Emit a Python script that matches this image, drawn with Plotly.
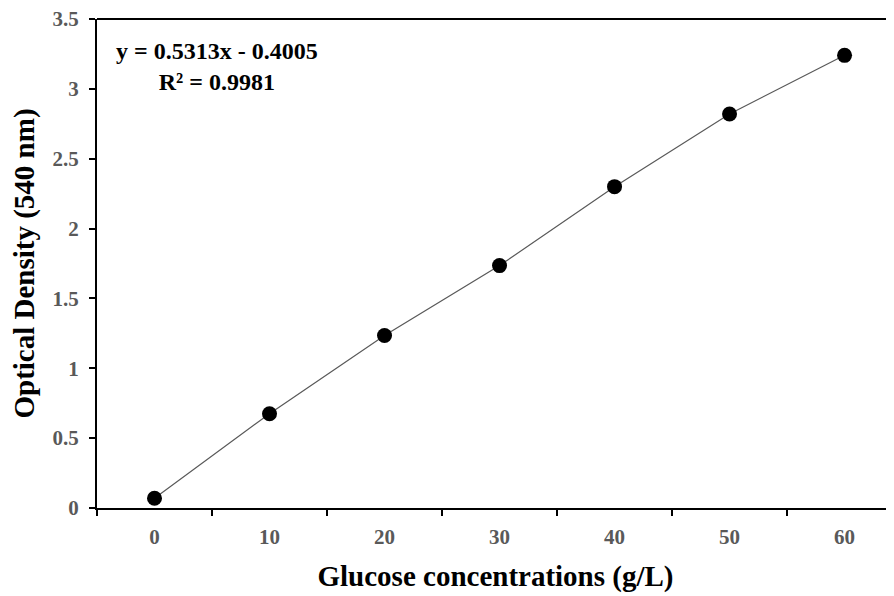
import plotly.graph_objects as go

categories = ["0", "10", "20", "30", "40", "50", "60"]
optical_density = [0.07, 0.675, 1.235, 1.735, 2.30, 2.82, 3.24]
y_ticks = [0, 0.5, 1, 1.5, 2, 2.5, 3, 3.5]
y_tick_labels = ["0", "0.5", "1", "1.5", "2", "2.5", "3", "3.5"]
equation_text = "y = 0.5313x - 0.4005<br>R² = 0.9981"

FONT = "Liberation Serif"

fig = go.Figure()
fig.add_trace(go.Scatter(
    x=categories, y=optical_density, mode="lines+markers",
    line=dict(color="#595959", width=1.2),
    marker=dict(color="black", size=15),
    showlegend=False,
))

# page body has an 8px default margin, so the figure is sized to 886x588
fig.update_layout(
    width=886, height=588,
    margin=dict(l=89, r=0, t=11, b=88),
    plot_bgcolor="white", paper_bgcolor="white",
    font=dict(family=FONT),
    xaxis=dict(
        type="category", range=[-0.5, 6.43],
        tickson="boundaries", ticks="outside", ticklen=6, tickwidth=2, tickcolor="black",
        showline=True, linecolor="black", linewidth=2, showgrid=False, zeroline=False,
        ticklabelstandoff=9,
        tickfont=dict(family=FONT, size=21, color="#595959", weight="bold"),
        title=dict(text="<b>Glucose concentrations (g/L)</b>",
                   font=dict(family=FONT, size=29, color="black"), standoff=17),
    ),
    yaxis=dict(
        range=[0, 3.5], tickvals=y_ticks, ticktext=y_tick_labels,
        ticks="outside", ticklen=6, tickwidth=2, tickcolor="black",
        showline=True, linecolor="black", linewidth=2, showgrid=False, zeroline=False,
        ticklabelstandoff=6, ticklabeloverflow="allow",
        tickfont=dict(family=FONT, size=21, color="#595959", weight="bold"),
        title=dict(text="<b>Optical Density (540 nm)</b>",
                   font=dict(family=FONT, size=29, color="black"), standoff=14),
    ),
    shapes=[dict(type="line", xref="paper", yref="paper", x0=0, x1=1, y0=1, y1=1,
                 line=dict(color="black", width=2))],
    annotations=[dict(
        text="<b>" + equation_text + "</b>", xref="paper", yref="paper",
        x=0.151, y=0.902, xanchor="center", yanchor="middle", showarrow=False, align="center",
        font=dict(family=FONT, size=24, color="black"),
    )],
)

fig.write_html("out.html")
